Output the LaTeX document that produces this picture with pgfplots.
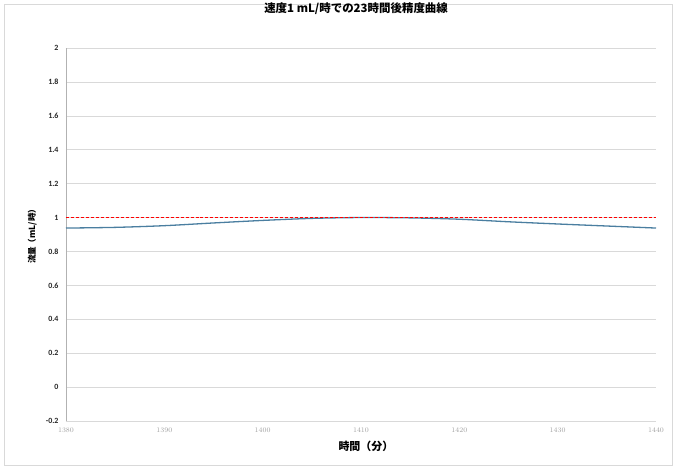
\documentclass[border=0pt]{standalone}
\usepackage{pgfplots}
\pgfplotsset{compat=1.18}
\usepackage{fontspec}
\setmainfont{Carlito}
\newfontfamily\jp{Noto Sans CJK JP}
\definecolor{gridc}{RGB}{217,217,217}
\definecolor{bluec}{RGB}{74,126,160}
\begin{document}
\begin{tikzpicture}[x=1bp,y=1bp]
\useasboundingbox (-66,-48) rectangle (609,421);
\draw[gray!30,line width=0.8bp] (-62,-44) rectangle (606,417);
\begin{axis}[
  at={(0,0)}, anchor=south west,
  scale only axis, width=590bp, height=373bp,
  xmin=1380, xmax=1440, ymin=-0.2, ymax=2,
  xtick={1380,1390,...,1440},
  ytick={-0.2,0,0.2,0.4,0.6,0.8,1,1.2,1.4,1.6,1.8,2},
  yticklabels={-0.2,0,0.2,0.4,0.6,0.8,1,1.2,1.4,1.6,1.8,2},
  ymajorgrids, grid style={gridc, line width=0.6bp},
  axis x line*=bottom,
  axis y line*=left,
  x axis line style={draw=none},
  y axis line style={-, gray!60, line width=0.6bp},
  major tick style={draw=none},
  xticklabel style={font=\fontsize{7}{8}\selectfont, text=gray!75, yshift=-3bp},
  yticklabel style={font=\bfseries\fontsize{8}{9}\selectfont, text=black!85, xshift=-4bp},
  xticklabel={\pgfmathprintnumber[1000 sep={}]{\tick}},
  clip=false,
]
\addplot[bluec, line width=1.3bp, smooth] coordinates {
(1380,0.938) (1385,0.942) (1390,0.952) (1395,0.968) (1400,0.983) (1405,0.995) (1410,1.0) (1415,0.998) (1420,0.99) (1425,0.975) (1430,0.962) (1435,0.95) (1440,0.938)};
\addplot[red, line width=1.8bp, densely dashed] coordinates {(1380,1) (1440,1)};
\node[font=\jp\bfseries\fontsize{11.5}{13}\selectfont] at (axis cs:1409.5,2.235) {速度1 mL/時での23時間後精度曲線};
\node[font=\jp\bfseries\fontsize{8.5}{9}\selectfont, rotate=90] at (rel axis cs:-0.057,0.5) {流量（mL/時）};
\node[font=\jp\bfseries\fontsize{11}{12}\selectfont] at (axis cs:1410.5,-0.35) {時間（分）};
\end{axis}
\end{tikzpicture}
\end{document}
